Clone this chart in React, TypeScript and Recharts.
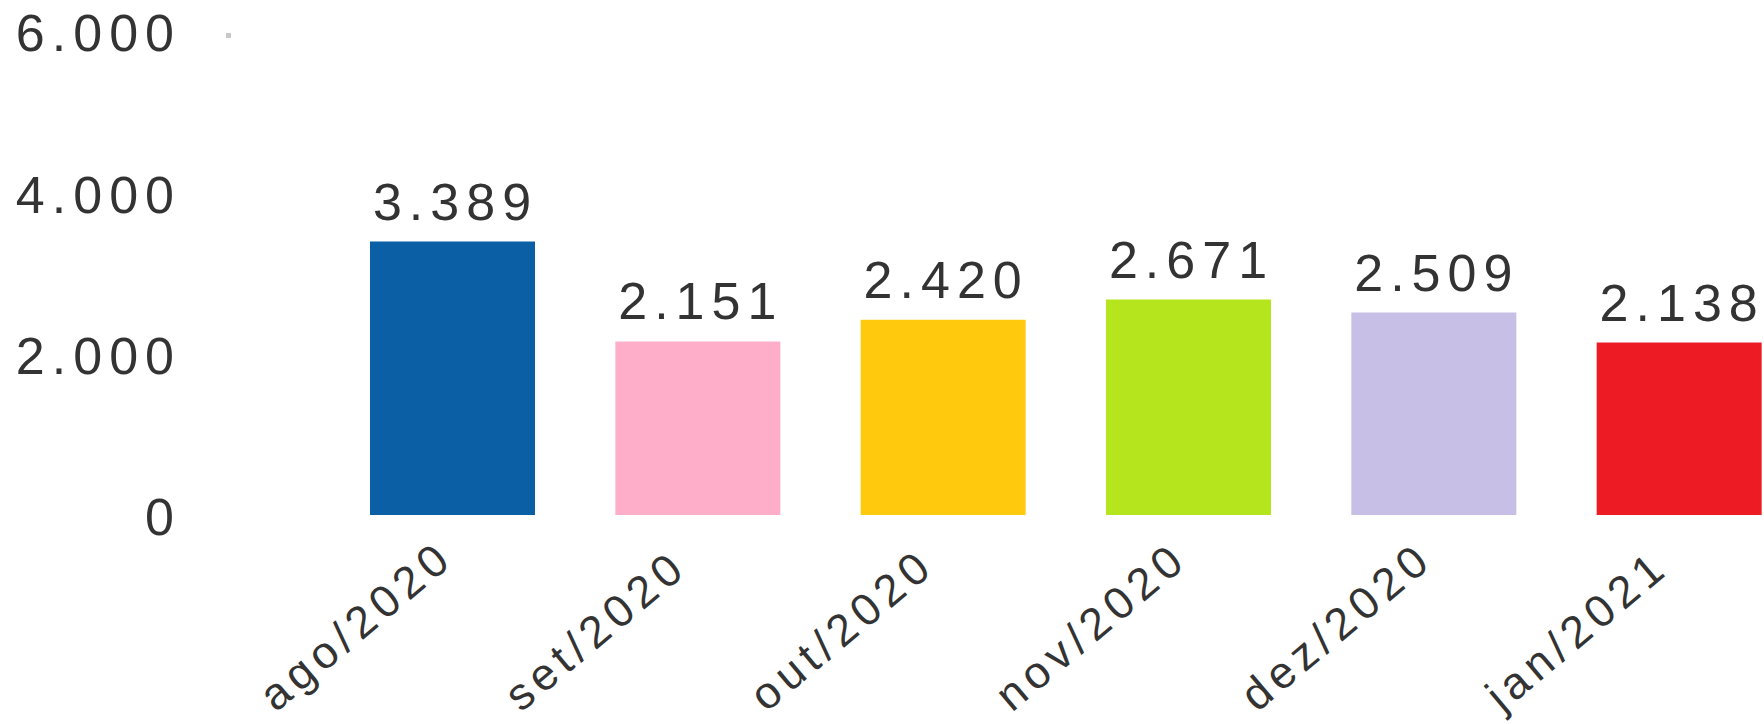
import React from 'react';
import { BarChart, Bar, XAxis, YAxis, Cell, LabelList } from 'recharts';

const months = ['ago/2020', 'set/2020', 'out/2020', 'nov/2020', 'dez/2020', 'jan/2021'];
const values = [3389, 2151, 2420, 2671, 2509, 2138];
const colors = ['#0B5FA4', '#FFAEC9', '#FFC90E', '#B5E61D', '#C8BFE7', '#ED1C24'];
const yTicks = [0, 2000, 4000, 6000];

const data = months.map((m, i) => ({ month: m, value: values[i] }));

const FONT = '"Liberation Sans", Arial, sans-serif';
const TEXT = '#333333';

const fmt = (v: number) => String(Math.round(v)).replace(/\B(?=(\d{3})+(?!\d))/g, '.');

const YTick = (props: any) => {
  const { x, y, payload } = props;
  const isTop = payload.value === yTicks[yTicks.length - 1];
  return (
    <g>
      <text
        x={x}
        y={y + 2}
        dy="0.355em"
        textAnchor="end"
        fill={TEXT}
        fontFamily={FONT}
        fontSize={52}
        letterSpacing={7}
      >
        {fmt(payload.value)}
      </text>
      {isTop && <rect x={x + 45} y={y + 2} width={5} height={5} fill="#C8C8C8" />}
    </g>
  );
};

const XTick = (props: any) => {
  const { x, y, payload } = props;
  return (
    <g transform={`translate(${x - 177},${y + 198}) rotate(-40)`}>
      <text
        x={0}
        y={0}
        textAnchor="start"
        fill={TEXT}
        fontFamily={FONT}
        fontSize={45}
        letterSpacing={6}
      >
        {payload.value}
      </text>
    </g>
  );
};

const ValueLabel = (props: any) => {
  const { x, y, width, value } = props;
  return (
    <text
      x={x + width / 2 + 3}
      y={y - 22}
      textAnchor="middle"
      fill={TEXT}
      fontFamily={FONT}
      fontSize={52}
      letterSpacing={7}
    >
      {fmt(value)}
    </text>
  );
};

export default function App() {
  return (
    <div
      style={{
        position: 'absolute',
        left: 0,
        top: 0,
        width: 1764,
        height: 724,
        overflow: 'hidden',
        background: '#ffffff',
      }}
    >
      <BarChart
        width={1810}
        height={724}
        data={data}
        margin={{ top: 31, right: 8, bottom: 0, left: 0 }}
      >
        <XAxis
          dataKey="month"
          height={209}
          axisLine={false}
          tickLine={false}
          tickSize={0}
          tickMargin={0}
          interval={0}
          tick={<XTick />}
        />
        <YAxis
          width={330}
          domain={[0, 6000]}
          ticks={yTicks}
          axisLine={false}
          tickLine={false}
          tickSize={0}
          tickMargin={149}
          tick={<YTick />}
        />
        <Bar dataKey="value" barSize={165} isAnimationActive={false}>
          {data.map((d, i) => (
            <Cell key={d.month} fill={colors[i]} />
          ))}
          <LabelList dataKey="value" content={<ValueLabel />} />
        </Bar>
      </BarChart>
    </div>
  );
}
